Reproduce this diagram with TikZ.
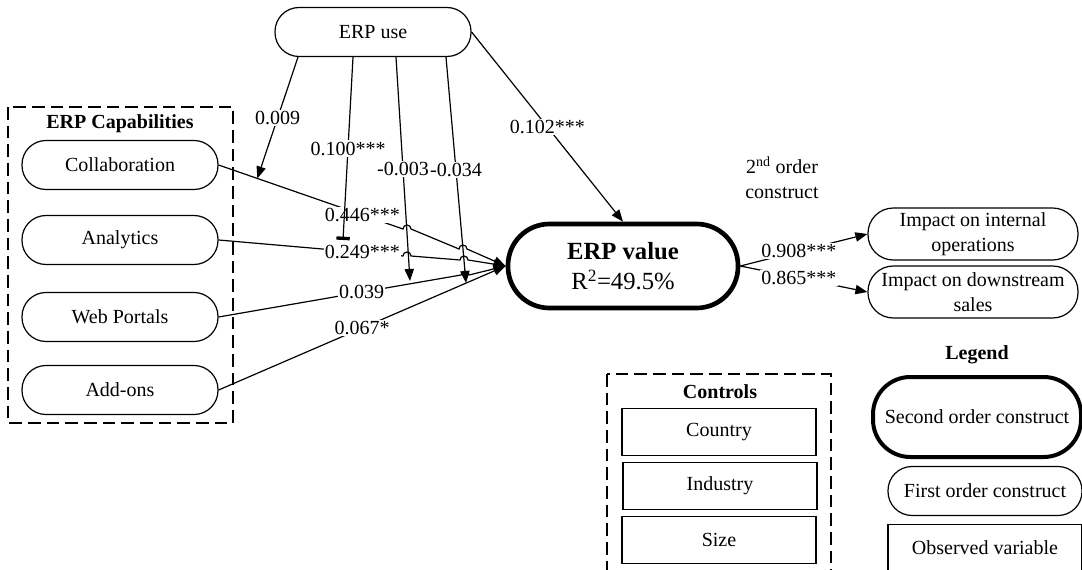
\documentclass[tikz,border=0pt]{standalone}
\usepackage{fontspec}
\setmainfont{Liberation Serif}
\usetikzlibrary{positioning, arrows.meta, calc}

\begin{document}
\begin{tikzpicture}[x=0.75pt, y=-0.75pt, font=\fontsize{15}{18.5}\selectfont,
  >={Triangle[length=9pt,width=7pt]}, line width=0.9pt,
  pill/.style={draw, rounded corners=18pt, minimum width=147pt, minimum height=36.75pt,
               inner sep=2pt, align=center},
  outpill/.style={pill, rounded corners=19pt, minimum width=157.5pt, minimum height=39pt},
  bigpill/.style={pill, line width=3.5pt, rounded corners=31pt, minimum width=172.5pt,
                  minimum height=63pt, font=\fontsize{18.5}{22.5}\selectfont},
  obs/.style={draw, minimum width=145.5pt, minimum height=35pt},
  group/.style={draw, dash pattern=on 9.5pt off 4.5pt},
  coef/.style={fill=white, inner sep=1pt},
  title/.style={font=\fontsize{15}{18}\selectfont\bfseries}]
  \useasboundingbox (0,0) rectangle (1082,570);

  % ERP capabilities
  \draw[group] (8,107) rectangle (233,423);
  \node[title] (captitle) at (120,124) {ERP Capabilities};
  \node[pill] (collab) at (120,165) {Collaboration};
  \node[pill] (analyt) at (120,240) {Analytics};
  \node[pill] (webp) at (120,317) {Web Portals};
  \node[pill] (addon) at (120,390) {Add-ons};

  \node[pill] (use) at (373,32) {ERP use};
  \node[bigpill] (value) at (623,266) {\textbf{ERP value}\\R\textsuperscript{2}=49.5\%};
  \node[outpill] (intl) at (973,234) {Impact on internal\\operations};
  \node[outpill] (down) at (973,292) {Impact on downstream\\sales};
  \node[align=center] (order) at (782,178) {2\textsuperscript{nd} order\\construct};

  % controls
  \draw[group] (607,374) rectangle (831,590);
  \node[title] (ctitle) at (720,392) {Controls};
  \node[obs] (country) at (719,432) {Country};
  \node[obs] (industry) at (720,486) {Industry};
  \node[obs] (size) at (719,540) {Size};

  % legend
  \node[title] (ltitle) at (977,355) {Legend};
  \node[pill, line width=3pt, rounded corners=28pt, minimum width=156pt, minimum height=60pt]
    (lsecond) at (977,417) {Second order construct};
  \node[pill, minimum width=145.5pt] (lfirst) at (985,491) {First order construct};
  \node[obs] (lobs) at (985,548) {Observed variable};

  % capabilities -> value
  \draw[->] (collab.east) -- coordinate[pos=0.21] (hitcollab) node[coef,pos=0.78] {0.446***} (403,229)
    arc[start angle=180,end angle=360,radius=4] -- (459,249)
    arc[start angle=180,end angle=360,radius=4] -- (value.west);
  \draw[->] (analyt.east) -- node[coef,pos=0.78] {0.249***} (403,256)
    arc[start angle=180,end angle=360,radius=4] -- (460,260)
    arc[start angle=180,end angle=360,radius=4] -- (value.west);
  \draw[->] (webp.east) -- node[coef,pos=0.59] {0.039} (461,275)
    arc[start angle=180,end angle=360,radius=4] -- (value.west);
  \draw[->] (addon.east) -- node[coef] {0.067*} (value.west);

  % moderation by ERP use
  \coordinate (endA) at (343,240);
  \coordinate (endB) at (410,281);
  \coordinate (endC) at (466,283);
  \draw[->] ($(use.south)+(-75,0)$) -- node[coef] {0.009} (hitcollab);
  \draw[-{Bar[width=10pt,line width=2.5pt]}] ($(use.south)+(-20,0)$) -- node[coef] {0.100***} (endA);
  \draw[->] ($(use.south)+(23,0)$) -- node[coef] {-0.003} (endB);
  \draw[->] ($(use.south)+(73,0)$) -- node[coef] {-0.034} (endC);
  \draw[->] (use.east) -- node[coef] {0.102***} (value.north);

  \draw[->] (value.east) -- node[coef,pos=0.46] {0.908***} (intl.west);
  \draw[->] (value.east) -- node[coef,pos=0.46] {0.865***} (down.west);
\end{tikzpicture}
\end{document}
